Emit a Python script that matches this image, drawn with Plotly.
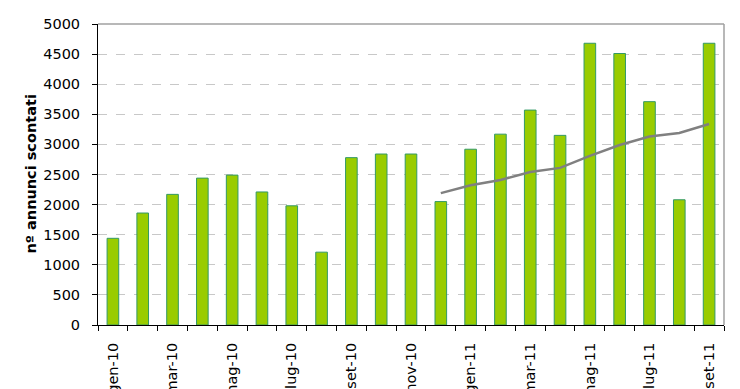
import plotly.graph_objects as go

months = ["gen-10", "feb-10", "mar-10", "apr-10", "mag-10", "giu-10", "lug-10",
          "ago-10", "set-10", "ott-10", "nov-10", "dic-10", "gen-11", "feb-11",
          "mar-11", "apr-11", "mag-11", "giu-11", "lug-11", "ago-11", "set-11"]
annunci = [1440, 1860, 2170, 2440, 2490, 2210, 1980, 1210, 2780, 2840, 2840,
           2050, 2920, 3170, 3570, 3150, 4680, 4510, 3710, 2080, 4680]

trend_months = ["dic-10", "gen-11", "feb-11", "mar-11", "apr-11", "mag-11",
                "giu-11", "lug-11", "ago-11", "set-11"]
trend_values = [2190, 2320, 2410, 2540, 2610, 2810, 2990, 3130, 3190, 3340]

tick_labels = [m if i % 2 == 0 else "" for i, m in enumerate(months)]
y_ticks = list(range(0, 5001, 500))

# page body adds an 8px offset; margins compensate for it
L, R, T, B = 90, 24, 16, 72
W, H = 740, 389
plot_w = W - L - R

fig = go.Figure()
fig.add_trace(go.Bar(
    x=months, y=annunci, width=0.39,
    marker=dict(color="#99CC00", line=dict(color="#339966", width=1)),
    showlegend=False,
))
fig.add_trace(go.Scatter(
    x=trend_months, y=trend_values, mode="lines",
    line=dict(color="#808080", width=2.5),
    showlegend=False,
))

fig.update_layout(
    width=W, height=H,
    margin=dict(l=L, r=R, t=T, b=B, autoexpand=False),
    paper_bgcolor="white", plot_bgcolor="white",
    font=dict(family="DejaVu Sans", color="#000000"),
    shapes=[
        dict(type="line", xref="paper", yref="paper", x0=0, x1=1, y0=1, y1=1,
             line=dict(color="#a0a0a0", width=1.5)),
        dict(type="line", xref="paper", yref="paper", x0=1, x1=1, y0=0, y1=1,
             line=dict(color="#a0a0a0", width=1.5)),
    ],
    annotations=[
        dict(text="<b>nº annunci scontati</b>", xref="paper", yref="paper",
             x=(22 - L) / plot_w, y=0.5, xanchor="center", yanchor="middle",
             textangle=-90, showarrow=False,
             font=dict(family="DejaVu Sans", size=14.5, color="#000000")),
    ],
)
fig.update_xaxes(
    type="category", categoryorder="array", categoryarray=months,
    tickmode="array", tickvals=months, ticktext=tick_labels,
    tickangle=-90, tickson="boundaries", automargin=False,
    ticks="outside", ticklen=5, tickcolor="#000000", tickwidth=1,
    showline=True, linecolor="#000000", linewidth=1,
    showgrid=False, ticklabelstandoff=11,
    tickfont=dict(family="DejaVu Sans", size=14.5, color="#000000"),
)
fig.update_yaxes(
    range=[0, 5000], tickmode="array", tickvals=y_ticks, automargin=False,
    ticks="outside", ticklen=5, tickcolor="#000000", tickwidth=1,
    showline=True, linecolor="#000000", linewidth=1,
    showgrid=True, gridcolor="#c8c8c8", griddash="dash", gridwidth=1,
    zeroline=False, ticklabelstandoff=9,
    tickfont=dict(family="DejaVu Sans", size=14.5, color="#000000"),
)

fig.write_html("out.html")
